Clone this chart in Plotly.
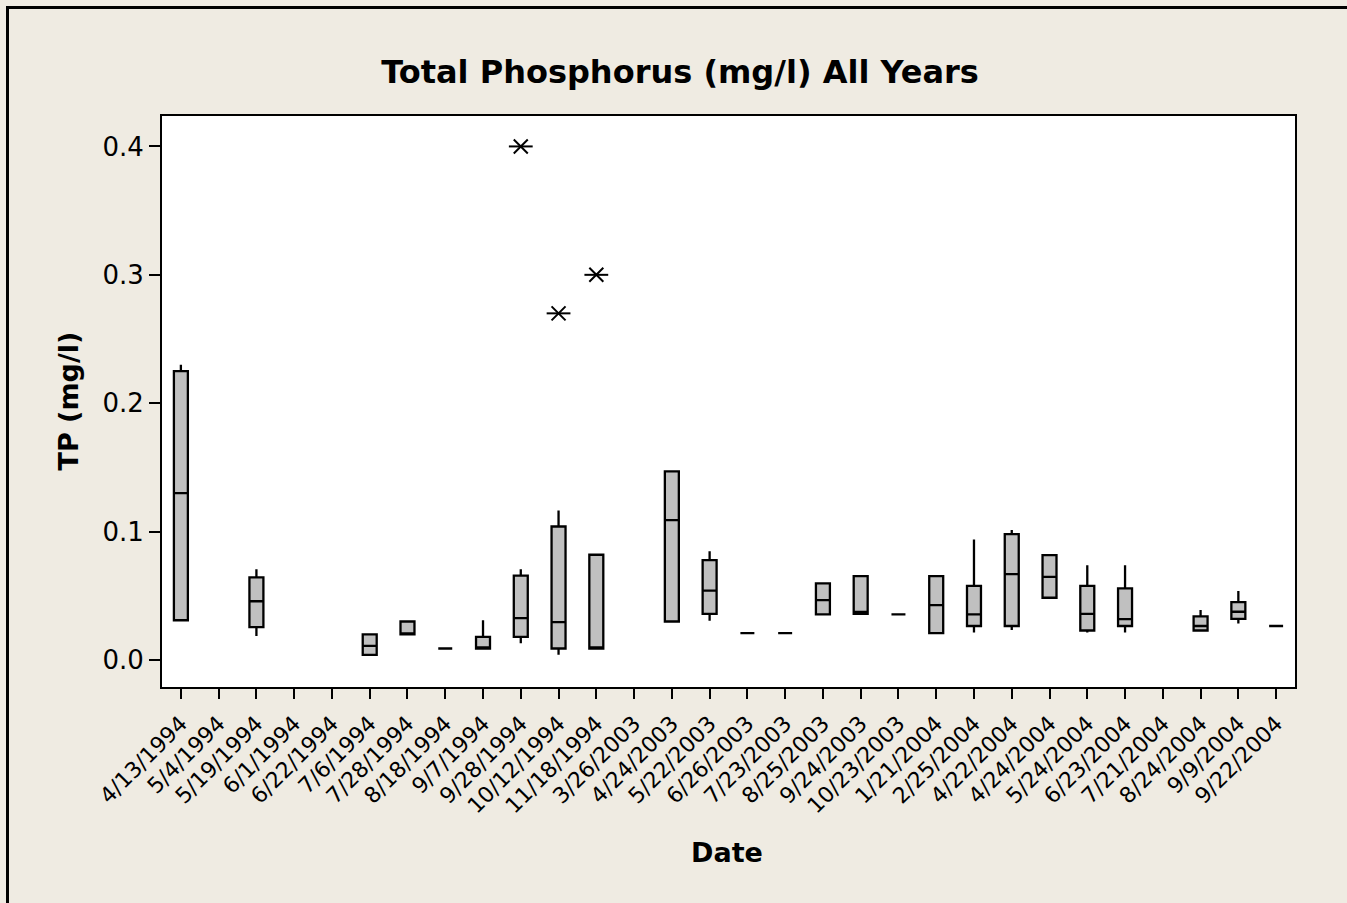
import plotly.graph_objects as go

# ---- data ----
all_dates = ["4/13/1994", "5/4/1994", "5/19/1994", "6/1/1994", "6/22/1994", "7/6/1994",
             "7/28/1994", "8/18/1994", "9/7/1994", "9/28/1994", "10/12/1994", "11/18/1994",
             "3/26/2003", "4/24/2003", "5/22/2003", "6/26/2003", "7/23/2003", "8/25/2003",
             "9/24/2003", "10/23/2003", "1/21/2004", "2/25/2004", "4/22/2004", "4/24/2004",
             "5/24/2004", "6/23/2004", "7/21/2004", "8/24/2004", "9/9/2004", "9/22/2004"]

box_dates = ["4/13/1994", "5/19/1994", "7/6/1994", "7/28/1994", "8/18/1994", "9/7/1994",
             "9/28/1994", "10/12/1994", "11/18/1994", "4/24/2003", "5/22/2003", "6/26/2003",
             "7/23/2003", "8/25/2003", "9/24/2003", "10/23/2003", "1/21/2004", "2/25/2004",
             "4/22/2004", "4/24/2004", "5/24/2004", "6/23/2004", "8/24/2004", "9/9/2004",
             "9/22/2004"]

q1 = [0.031, 0.0256, 0.004, 0.020, 0.009, 0.009, 0.018, 0.009, 0.009, 0.030, 0.036, 0.021,
      0.021, 0.0355, 0.036, 0.0355, 0.021, 0.0265, 0.0265, 0.0485, 0.023, 0.0265, 0.023,
      0.032, 0.0265]
median = [0.130, 0.0458, 0.011, 0.020, 0.009, 0.009, 0.0327, 0.0295, 0.009, 0.109, 0.054,
          0.021, 0.021, 0.0467, 0.0374, 0.0355, 0.0428, 0.0355, 0.0669, 0.0648, 0.036,
          0.0319, 0.0265, 0.0376, 0.0265]
q3 = [0.225, 0.0643, 0.020, 0.030, 0.009, 0.018, 0.0658, 0.104, 0.082, 0.147, 0.0778, 0.021,
      0.021, 0.0597, 0.0654, 0.0355, 0.0654, 0.0578, 0.098, 0.0817, 0.0578, 0.0558, 0.034,
      0.0451, 0.0265]
whisker_low = [0.031, 0.0188, 0.004, 0.020, 0.009, 0.009, 0.013, 0.0042, 0.009, 0.030, 0.0306,
               0.021, 0.021, 0.0355, 0.036, 0.0355, 0.021, 0.0215, 0.0233, 0.0485, 0.0215,
               0.0215, 0.023, 0.0285, 0.0265]
whisker_high = [0.230, 0.0708, 0.020, 0.030, 0.009, 0.031, 0.0708, 0.1164, 0.082, 0.147,
                0.0848, 0.021, 0.021, 0.0597, 0.0654, 0.0355, 0.0654, 0.0939, 0.1012, 0.0817,
                0.0739, 0.0739, 0.0389, 0.0537, 0.0265]

outlier_dates = ["9/28/1994", "10/12/1994", "11/18/1994"]
outlier_values = [0.40, 0.27, 0.30]

y_ticks = [0.0, 0.1, 0.2, 0.3, 0.4]

FONT = "DejaVu Sans"
BG = "#efebe2"

fig = go.Figure()

fig.add_trace(go.Box(
    x=box_dates, q1=q1, median=median, q3=q3,
    lowerfence=whisker_low, upperfence=whisker_high,
    boxpoints=False, whiskerwidth=0, width=0.37,
    fillcolor="#c0c0c0", line=dict(color="black", width=2.3),
    showlegend=False,
))

# asterisk-like outlier symbols (X + horizontal bar)
fig.add_trace(go.Scatter(
    x=outlier_dates, y=outlier_values, mode="markers", showlegend=False,
    marker=dict(symbol="x-thin-open", size=14, color="black",
                line=dict(color="black", width=2)),
))
fig.add_trace(go.Scatter(
    x=outlier_dates, y=outlier_values, mode="markers", showlegend=False,
    marker=dict(symbol="line-ew-open", size=17, color="black",
                line=dict(color="black", width=2)),
))

L, R, T, B = 162, 52, 116, 216
W, H = 1347, 903
pw = W - L - R
ph = H - T - B

fig.update_layout(
    width=W, height=H,
    margin=dict(l=L, r=R, t=T, b=B, pad=0),
    paper_bgcolor=BG, plot_bgcolor="white",
    font=dict(family=FONT, color="black"),
    title=dict(text="<b>Total Phosphorus (mg/l) All Years</b>",
               font=dict(family=FONT, size=32, color="black"),
               x=680 / W, xref="container", xanchor="center",
               y=1 - 72 / H, yref="container", yanchor="middle"),
    xaxis=dict(type="category", categoryorder="array", categoryarray=all_dates,
               tickmode="array", tickvals=all_dates, ticktext=all_dates,
               range=[-0.5, len(all_dates) - 0.5],
               tickangle=-45, tickfont=dict(family=FONT, size=22, color="black"),
               ticklabelstandoff=3,
               ticks="outside", ticklen=10, tickwidth=2, tickcolor="black",
               showline=True, linewidth=2, linecolor="black", mirror=True,
               showgrid=False, zeroline=False, fixedrange=True),
    yaxis=dict(range=[-0.021, 0.4237], tickmode="array", tickvals=y_ticks,
               ticktext=[f"{v:.1f}" for v in y_ticks],
               tickfont=dict(family=FONT, size=26, color="black"),
               ticks="outside", ticklen=11, tickwidth=2, tickcolor="black",
               showline=True, linewidth=2, linecolor="black", mirror=True,
               showgrid=False, zeroline=False, fixedrange=True),
)

fig.add_annotation(text="<b>TP (mg/l)</b>", textangle=-90, showarrow=False,
                   xref="paper", yref="paper", x=(68 - L) / pw, y=0.5,
                   xanchor="center", yanchor="middle",
                   font=dict(family=FONT, size=27, color="black"))
fig.add_annotation(text="<b>Date</b>", showarrow=False,
                   xref="paper", yref="paper", x=(727 - L) / pw, y=-(853 - (H - B)) / ph,
                   xanchor="center", yanchor="middle",
                   font=dict(family=FONT, size=27, color="black"))

# outer frame
fig.add_shape(type="rect", xref="paper", yref="paper",
              x0=(7.5 - L) / pw, x1=(W + 20 - L) / pw,
              y0=-(H + 20 - (H - B)) / ph, y1=((H - B) - 7.5) / ph,
              line=dict(color="black", width=3), fillcolor="rgba(0,0,0,0)", layer="below")

fig.write_html("out.html", config={"displayModeBar": False},
               post_script="document.body.style.margin='0';document.body.style.overflow='hidden';")
